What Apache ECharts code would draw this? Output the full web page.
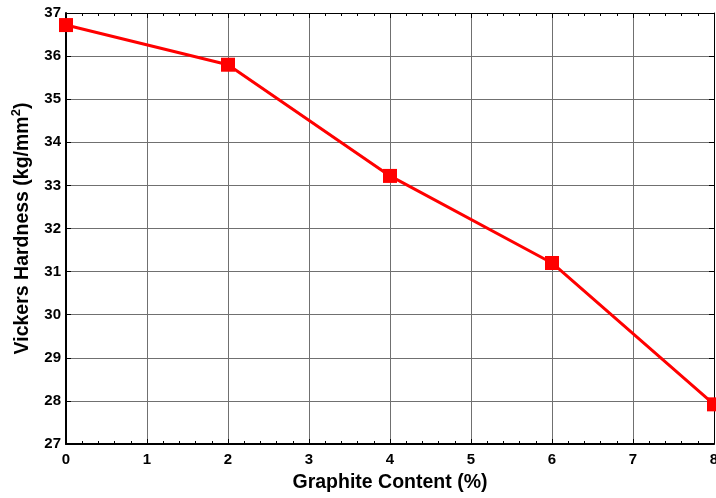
<!DOCTYPE html>
<html><head><meta charset="utf-8">
<script src="https://cdn.jsdelivr.net/npm/echarts@6/dist/echarts.min.js"></script>
<style>html,body{margin:0;padding:0;background:#fff}#c{width:716px;height:498px}</style>
</head><body><div id="c"></div>
<script>
const xValues = [0, 2, 4, 6, 8];
const hardness = [36.72, 35.8, 33.22, 31.2, 27.92];
const xTitle = 'Graphite Content (%)';
const yTitle = 'Vickers Hardness (kg/mm';

const chart = echarts.init(document.getElementById('c'));
const font = 'Arial, "Liberation Sans", sans-serif';
const tickStyle = {show:true, inside:true, length:5, lineStyle:{color:'#000', width:1}};
const minorTickStyle = {show:true, splitNumber:5, length:3, lineStyle:{color:'#000', width:1}};
chart.setOption({
  animation:false,
  grid:{left:66, right:2, top:13, bottom:54, containLabel:false, outerBoundsMode:'none'},
  xAxis:[{
    type:'value', min:0, max:8, interval:1, position:'bottom',
    name:xTitle, nameLocation:'middle', nameGap:29,
    nameTextStyle:{fontFamily:font, fontWeight:'bold', fontSize:19.5, color:'#000'},
    axisLine:{show:true, onZero:false, lineStyle:{color:'#000', width:2}},
    axisTick:tickStyle, minorTick:minorTickStyle,
    axisLabel:{fontFamily:font, fontWeight:'bold', fontSize:15, color:'#000', margin:8},
    splitLine:{show:true, lineStyle:{color:'#707070', width:1}}
  },{
    type:'value', min:0, max:8, interval:1, position:'top',
    axisLine:{show:true, onZero:false, lineStyle:{color:'#000', width:1}},
    axisTick:tickStyle, minorTick:minorTickStyle,
    axisLabel:{show:false}, splitLine:{show:false}
  }],
  yAxis:[{
    type:'value', min:27, max:37, interval:1, position:'left',
    name:'{a|' + yTitle + '}{s|2}{a|)}', nameLocation:'middle', nameGap:26, nameRotate:90,
    nameTextStyle:{rich:{
      a:{fontFamily:font, fontWeight:'bold', fontSize:19.5, color:'#000', lineHeight:24},
      s:{fontFamily:font, fontWeight:'bold', fontSize:13, color:'#000', lineHeight:24, verticalAlign:'top', padding:[0,0,10,0]}
    }},
    axisLine:{show:true, onZero:false, lineStyle:{color:'#000', width:2}},
    axisTick:tickStyle,
    axisLabel:{fontFamily:font, fontWeight:'bold', fontSize:15, color:'#000', margin:5},
    splitLine:{show:true, lineStyle:{color:'#707070', width:1}}
  },{
    type:'value', min:27, max:37, interval:1, position:'right',
    axisLine:{show:true, onZero:false, lineStyle:{color:'#000', width:1}},
    axisTick:tickStyle, axisLabel:{show:false}, splitLine:{show:false}
  }],
  series:[{
    type:'line', xAxisIndex:0, yAxisIndex:0,
    data:xValues.map((x,i)=>[x, hardness[i]]),
    symbol:'rect', symbolSize:14, clip:false,
    lineStyle:{color:'#ff0000', width:3},
    itemStyle:{color:'#ff0000'}
  }]
});
</script></body></html>
